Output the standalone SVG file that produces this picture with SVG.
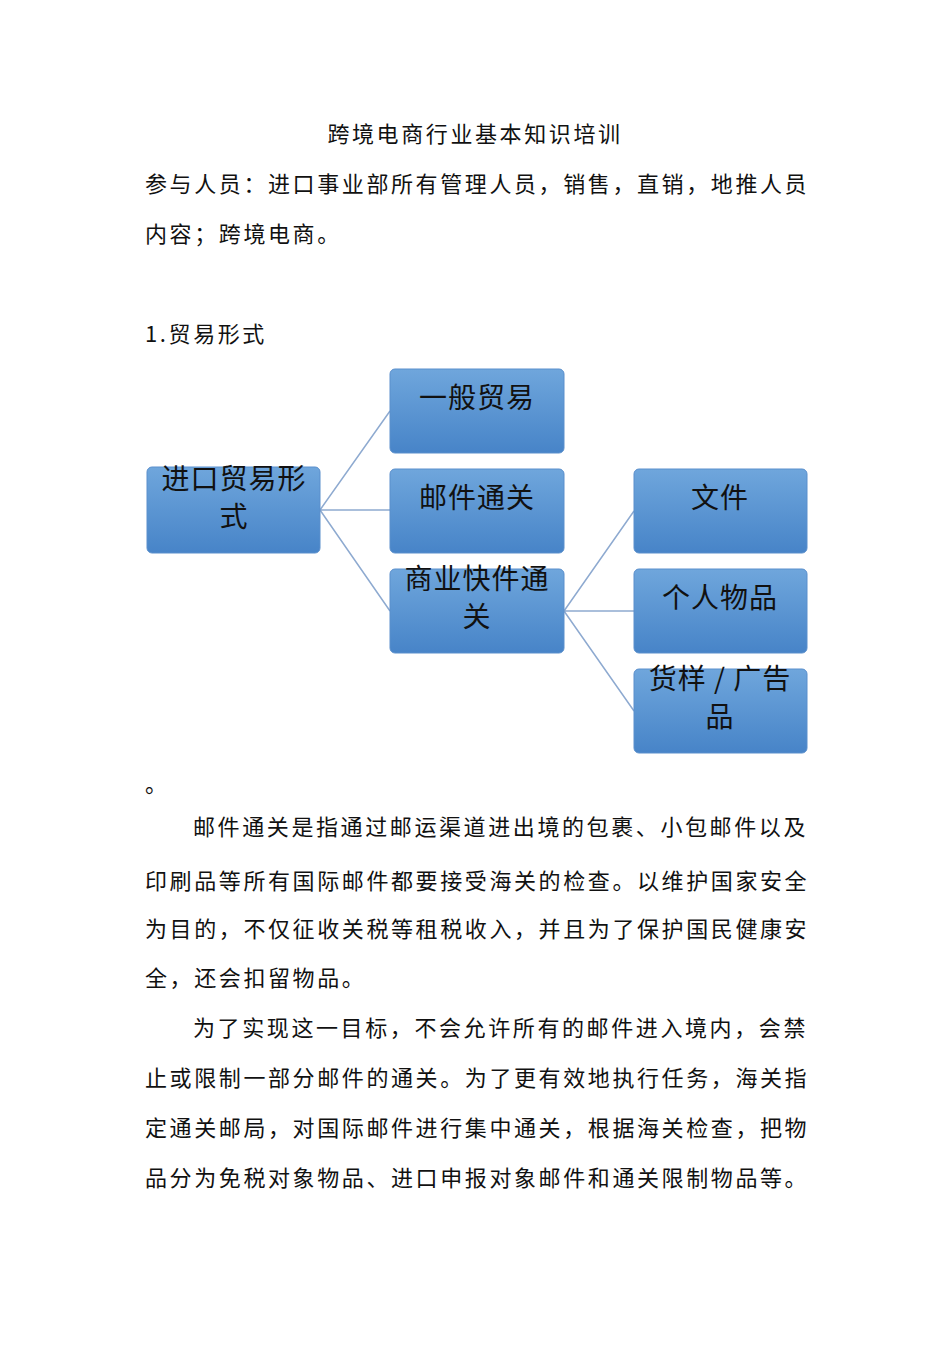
<svg xmlns="http://www.w3.org/2000/svg" width="950" height="1345" viewBox="0 0 950 1345">
<defs>
<linearGradient id="g" x1="0" y1="0" x2="0" y2="1"><stop offset="0" stop-color="#6fa6dc"/><stop offset="1" stop-color="#4784c8"/></linearGradient>
<style>
.t{font-family:"Noto Sans CJK SC","Noto Sans",sans-serif;font-size:22px;letter-spacing:2.6px;fill:#111}
.b{fill:url(#g);stroke:#5a8fcc;stroke-width:1}
.n{font-family:"Noto Sans CJK SC",sans-serif;font-size:28px;letter-spacing:1px;fill:#111;text-anchor:middle}
.c{stroke:#8eaad0;stroke-width:1.5;fill:none}
</style>
</defs>
<rect width="950" height="1345" fill="#fff"/>
<text class="t" x="475" y="142" text-anchor="middle">跨境电商行业基本知识培训</text>
<text class="t" x="145" y="192">参与人员：进口事业部所有管理人员，销售，直销，地推人员</text>
<text class="t" x="145" y="242">内容；跨境电商。</text>
<text class="t" x="145" y="342">1.贸易形式</text>
<g id="connectors">
<path class="c" d="M320 510L390 411M320 510H390M320 510L390 611M564 611L634 511M564 611H634M564 611L634 711"/>
</g>
<g id="n1"><rect class="b" x="147" y="467" width="173" height="86" rx="5"/><text class="n" x="234" y="489">进口贸易形</text><text class="n" x="234" y="527">式</text></g>
<g id="n2"><rect class="b" x="390" y="369" width="174" height="84" rx="5"/><text class="n" x="477" y="408">一般贸易</text></g>
<g id="n3"><rect class="b" x="390" y="469" width="174" height="84" rx="5"/><text class="n" x="477" y="508">邮件通关</text></g>
<g id="n4"><rect class="b" x="390" y="569" width="174" height="84" rx="5"/><text class="n" x="477" y="589">商业快件通</text><text class="n" x="477" y="627">关</text></g>
<g id="n5"><rect class="b" x="634" y="469" width="173" height="84" rx="5"/><text class="n" x="720" y="508">文件</text></g>
<g id="n6"><rect class="b" x="634" y="569" width="173" height="84" rx="5"/><text class="n" x="720" y="608">个人物品</text></g>
<g id="n7"><rect class="b" x="634" y="669" width="173" height="84" rx="5"/><text class="n" x="720" y="689">货样 / 广告</text><text class="n" x="720" y="727">品</text></g>
<text class="t" x="145" y="792">。</text>
<text class="t" x="193" y="835">邮件通关是指通过邮运渠道进出境的包裹、小包邮件以及</text>
<text class="t" x="145" y="889">印刷品等所有国际邮件都要接受海关的检查。以维护国家安全</text>
<text class="t" x="145" y="937">为目的，不仅征收关税等租税收入，并且为了保护国民健康安</text>
<text class="t" x="145" y="986">全，还会扣留物品。</text>
<text class="t" x="193" y="1036">为了实现这一目标，不会允许所有的邮件进入境内，会禁</text>
<text class="t" x="145" y="1086">止或限制一部分邮件的通关。为了更有效地执行任务，海关指</text>
<text class="t" x="145" y="1136">定通关邮局，对国际邮件进行集中通关，根据海关检查，把物</text>
<text class="t" x="145" y="1186">品分为免税对象物品、进口申报对象邮件和通关限制物品等。</text>
</svg>
